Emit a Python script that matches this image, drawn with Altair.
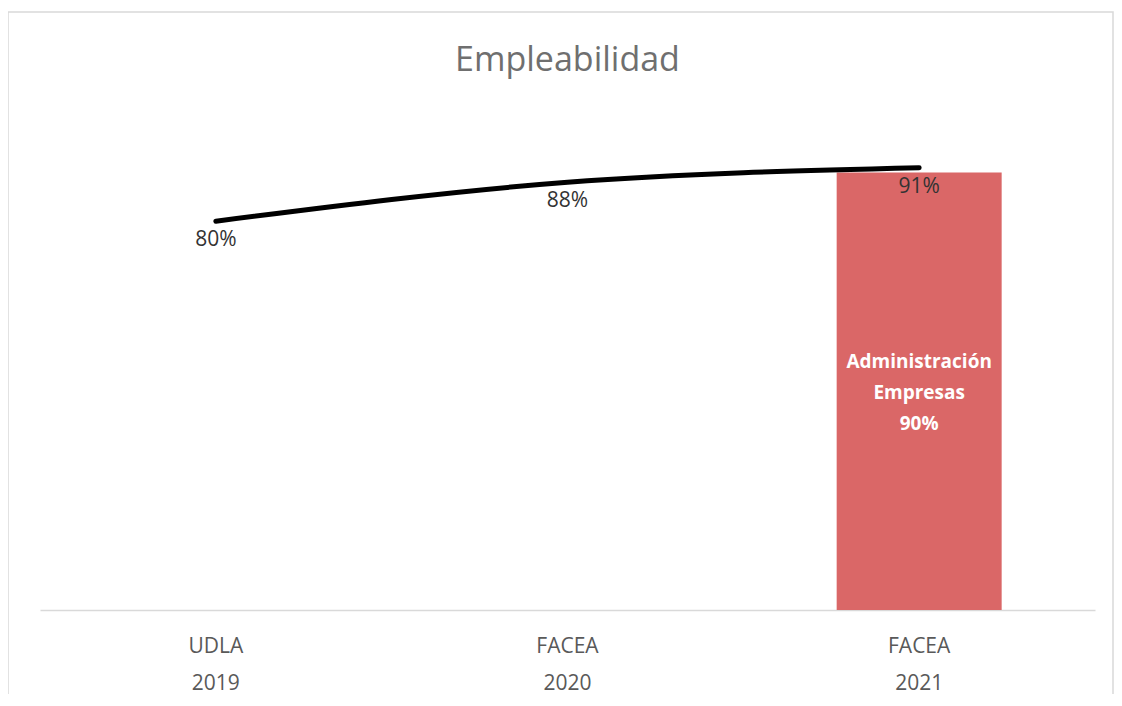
import altair as alt
import pandas as pd

categories = ["UDLA 2019", "FACEA 2020", "FACEA 2021"]
line_values = [80, 88, 91]
bar_categories = ["FACEA 2021"]
bar_values = [90]
bar_names = ["Administración\nEmpresas"]

line_df = pd.DataFrame({"cat": categories, "v": line_values,
                        "lbl": [f"{v}%" for v in line_values]})
bar_df = pd.DataFrame({"cat": bar_categories, "v": bar_values,
                       "lbl": [f"{n}\n{v}%" for n, v in zip(bar_names, bar_values)]})

xenc = alt.X("cat:N", sort=categories, scale=alt.Scale(domain=categories, paddingInner=0, paddingOuter=0),
             axis=alt.Axis(title=None, labelExpr="split(datum.label, ' ')", labelAngle=0,
                           ticks=False, domainColor="#d9d9d9", domainWidth=1.5,
                           labelColor="#595959", labelFontSize=21, labelFont="Open Sans",
                           labelPadding=25, labelLineHeight=37))
yscale = alt.Scale(domain=[0, 100], nice=False)

border = alt.Chart(pd.DataFrame({"a": [0]})).mark_rect(
    fill=None, stroke="#d9d9d9", strokeWidth=1.5
).encode(x=alt.value(-32), x2=alt.value(1073), y=alt.value(-112), y2=alt.value(640))

bars = alt.Chart(bar_df).mark_bar(size=165, color="#DA6767").encode(
    x=xenc, y=alt.Y("v:Q", scale=yscale, axis=None))

bar_text = alt.Chart(bar_df).transform_calculate(mid="datum.v/2").mark_text(
    color="white", fontWeight="bold", fontSize=19, font="Open Sans", lineBreak="\n",
    lineHeight=31, baseline="middle", dy=-29
).encode(x=alt.X("cat:N", sort=categories), y=alt.Y("mid:Q", scale=yscale), text="lbl:N")

line = alt.Chart(line_df).mark_line(color="black", strokeWidth=5, strokeCap="round",
                                    interpolate="monotone").encode(
    x=alt.X("cat:N", sort=categories), y=alt.Y("v:Q", scale=yscale))

line_text = alt.Chart(line_df).mark_text(color="#333333", fontSize=21, font="Open Sans",
                                         dy=19, baseline="middle").encode(
    x=alt.X("cat:N", sort=categories), y=alt.Y("v:Q", scale=yscale), text="lbl:N")

chart = alt.layer(border, bars, bar_text, line, line_text).properties(
    width=1055, height=486,
    title=alt.TitleParams("Empleabilidad", fontSize=34, font="Open Sans", fontWeight="normal",
                          color="#6f6f6f", offset=-67, anchor="middle"),
    autosize=alt.AutoSizeParams(type="none"),
    padding={"left": 32, "top": 116, "right": 19, "bottom": 84},
).configure(background="white", view=alt.ViewConfig(stroke=None))

chart.save("out.html", embed_options={"renderer": "svg", "actions": False})
